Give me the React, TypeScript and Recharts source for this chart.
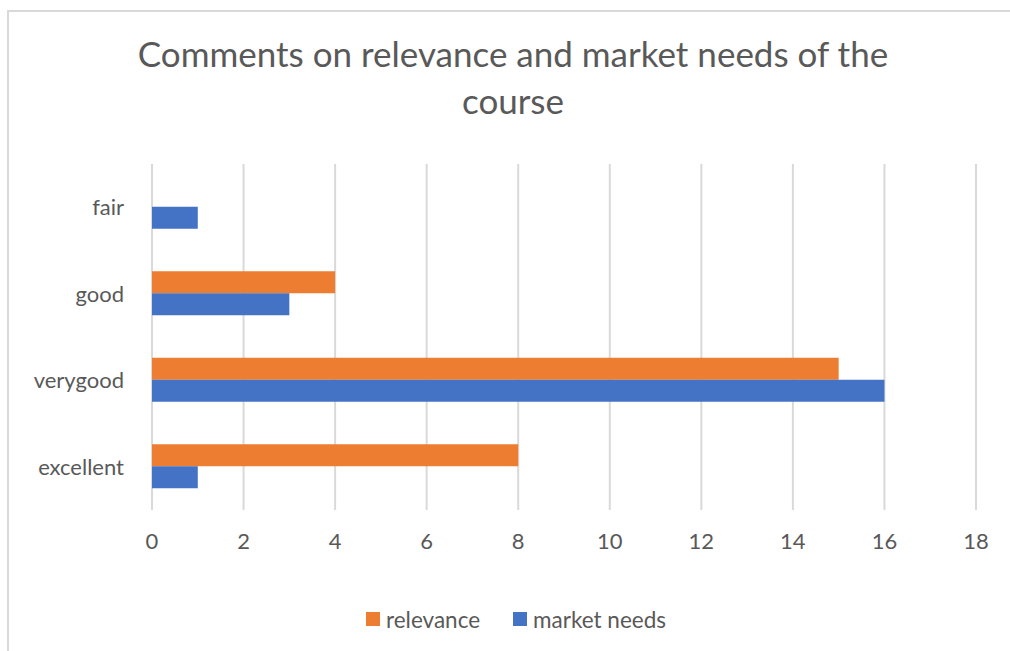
import React from 'react'
import {
  BarChart, Bar, XAxis, YAxis, CartesianGrid,
} from 'recharts'

const CATEGORIES = ['fair', 'good', 'verygood', 'excellent']
const RELEVANCE = [0, 4, 15, 8]
const MARKET_NEEDS = [1, 3, 16, 1]
const X_TICKS = [0, 2, 4, 6, 8, 10, 12, 14, 16, 18]

const SERIES = [
  { key: 'relevance', label: 'relevance', color: '#ED7D31' },
  { key: 'market', label: 'market needs', color: '#4472C4' },
]

const FONT = 'Lato, "Open Sans", sans-serif'
const TEXT = '#595959'

const data = CATEGORIES.map((name, i) => ({
  name,
  relevance: RELEVANCE[i],
  market: MARKET_NEEDS[i],
}))

function LegendRow() {
  return (
    <div style={{ position: 'absolute', left: 0, top: 605, width: 1032, height: 28, display: 'flex', justifyContent: 'center', alignItems: 'center', fontFamily: FONT, fontSize: 22.5, color: TEXT }}>
      {SERIES.map((s, i) => (
        <span key={s.key} style={{ display: 'flex', alignItems: 'center', marginLeft: i ? 33 : 0 }}>
          <span style={{ width: 14, height: 14, background: s.color, marginRight: 6, display: 'inline-block' }} />
          {s.label}
        </span>
      ))}
    </div>
  )
}

export default function App() {
  return (
    <div style={{ position: 'absolute', left: 0, top: 0, width: 1010, height: 651, background: '#fff', overflow: 'hidden' }}>
      <div style={{ position: 'absolute', left: 7, top: 10, width: 1100, height: 800, borderLeft: '2px solid #D9D9D9', borderTop: '2px solid #D9D9D9' }} />
      <div style={{ position: 'absolute', left: 0, top: 30, width: 1026, textAlign: 'center', fontFamily: FONT, fontSize: 35, lineHeight: '47px', color: TEXT }}>
        Comments on relevance and market needs of the<br />course
      </div>
      <div style={{ position: 'absolute', left: 0, top: 0 }}>
        <BarChart
          width={1010}
          height={651}
          data={data}
          layout="vertical"
          margin={{ top: 164, right: 34, bottom: 111, left: 0 }}
          barCategoryGap="24%"
          barGap={0}
        >
          <CartesianGrid horizontal={false} stroke="#D9D9D9" strokeWidth={2} />
          <XAxis
            type="number"
            domain={[0, 18]}
            ticks={X_TICKS}
            height={30}
            axisLine={false}
            tickLine={false}
            tickSize={0}
            tickMargin={23}
            tick={{ fill: TEXT, fontSize: 22, fontFamily: FONT }}
          />
          <YAxis
            type="category"
            dataKey="name"
            width={152}
            axisLine={false}
            tickLine={false}
            tickSize={0}
            tickMargin={28}
            tick={{ fill: TEXT, fontSize: 22, fontFamily: FONT }}
          />
          {SERIES.map((s) => (
            <Bar key={s.key} dataKey={s.key} name={s.label} fill={s.color} isAnimationActive={false} />
          ))}
        </BarChart>
      </div>
      <LegendRow />
    </div>
  )
}
